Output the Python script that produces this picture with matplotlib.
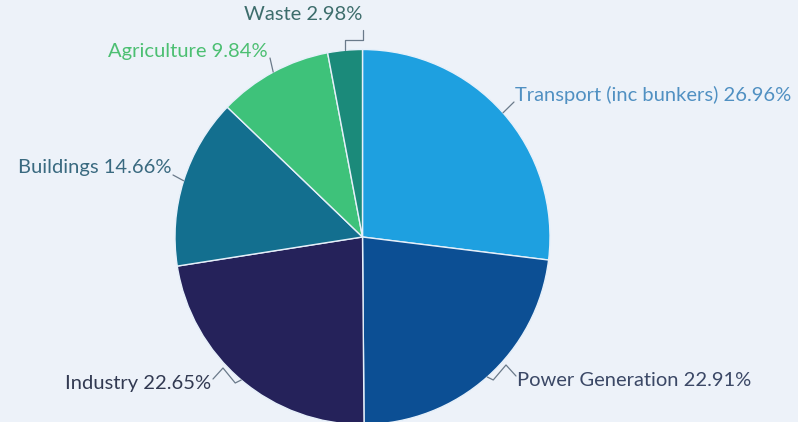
import numpy as np
import matplotlib
matplotlib.use("Agg")
import matplotlib.pyplot as plt

# Sector shares (%), clockwise from 12 o'clock
SECTORS = ["Transport (inc bunkers)", "Power Generation", "Industry", "Buildings", "Agriculture", "Waste"]
SHARES = [26.96, 22.91, 22.65, 14.66, 9.84, 2.98]
SLICE_COLORS = ["#1ea0e0", "#0c4f94", "#25225a", "#136f8f", "#3ec27a", "#1b8a7a"]
LABEL_COLORS = ["#5090c2", "#3b4866", "#323a52", "#3a6a80", "#4cbf72", "#3d6d6c"]

BG = "#edf2f9"
W, H = 798, 422
CX, CY, R = 362.5, 422 - 237, 187.5

# label anchor (pixel, y from bottom) and alignment
LABEL_POS = {
    "Transport (inc bunkers)": (514, 422 - 95, "left"),
    "Power Generation": (516, 422 - 380, "left"),
    "Industry": (211, 422 - 383, "right"),
    "Buildings": (171, 422 - 168, "right"),
    "Agriculture": (268, 422 - 51, "right"),
    "Waste": (362, 422 - 15, "right"),
}

fig = plt.figure(figsize=(W / 100, H / 100), dpi=100, facecolor=BG)
ax = fig.add_axes([0, 0, 1, 1])
ax.set_facecolor(BG)

ax.pie(
    SHARES,
    colors=SLICE_COLORS,
    startangle=90,
    counterclock=False,
    center=(CX, CY),
    radius=R,
    frame=True,
    wedgeprops={"edgecolor": "#e6f0fa", "linewidth": 1.0},
)
ax.set_xlim(0, W)
ax.set_ylim(0, H)
ax.set_aspect("equal")
ax.axis("off")

cum = np.cumsum([0] + SHARES)
for i, name in enumerate(SECTORS):
    mid = (cum[i] + cum[i + 1]) / 2
    ang = np.deg2rad(90 - mid * 3.6)
    ex, ey = CX + R * np.cos(ang), CY + R * np.sin(ang)
    tx, ty, ha = LABEL_POS[name]
    lx = tx if ha == "left" else tx + 2
    if name == "Waste":
        xs = [ex, ex, tx + 1, tx + 1]
        ys = [ey, ey + 10, ey + 10, ey + 20]
    elif name in ("Power Generation", "Industry"):
        dx = 1 if ha == "left" else -1
        xs = [ex, ex + dx * 6, lx - dx * 10, lx]
        ys = [ey, ey - 3, ey + 12, ty + 4]
    else:
        xs = [ex, lx]
        ys = [ey, ty - 7]
    ax.plot(xs, ys, color="#6a7a8a", lw=0.9, solid_capstyle="round")
    ax.text(
        tx + (1 if ha == "left" else 0),
        ty,
        f"{name} {SHARES[i]:.2f}%",
        ha=ha,
        va="center",
        fontsize=14.5,
        family="Lato",
        color=LABEL_COLORS[i],
    )

fig.savefig("out.png", dpi=100, facecolor=BG)
